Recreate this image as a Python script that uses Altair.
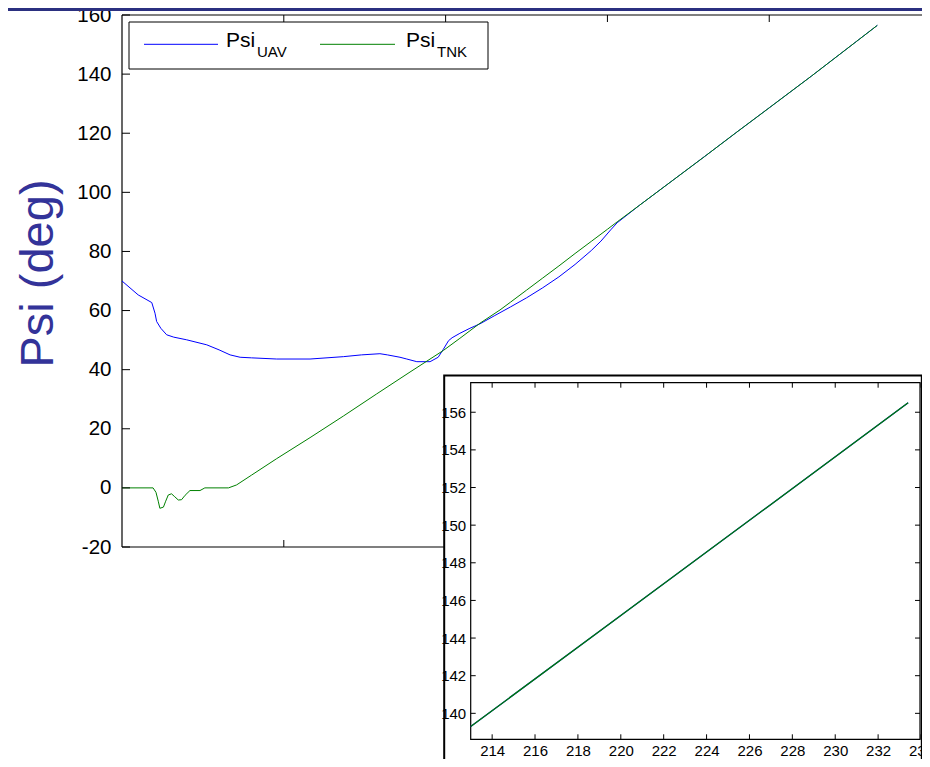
import altair as alt
import pandas as pd

# ---------------- data ----------------
uav_t = [0, 5, 9.2, 10.2, 10.7, 12, 13.8, 16, 20, 26.2, 30, 33.4, 36.5, 40, 47.8,
         58.1, 68.4, 74, 79.7, 82, 85.9, 88, 91.1, 95.2, 97.7, 99.3, 100.9, 102,
         104.4, 107.5, 110.6, 115, 120, 125, 130, 135, 140, 145, 148, 151, 153,
         160, 170, 180, 190, 200, 213, 220, 227, 233.4]
uav_psi = [70, 65.3, 62.7, 59.1, 56.3, 54, 51.8, 51, 50.1, 48.4, 46.7, 45, 44.2,
           44, 43.6, 43.6, 44.4, 45, 45.4, 45, 44.2, 43.6, 42.7, 42.7, 44.2, 46.9,
           49.8, 50.8, 52.3, 54, 55.5, 58.2, 61.2, 64.3, 67.7, 71.4, 75.6, 80.3,
           83.5, 87.3, 89.7, 95.7, 103.9, 112.1, 120.4, 128.6, 139.3, 145.2,
           151.1, 156.5]
tnk_t = [0, 9.6, 10.5, 11.2, 11.7, 12.8, 13.5, 14.3, 15.3, 16.3, 17.4, 18.4, 19.5,
         21, 24.1, 25.6, 32.9, 35.4, 40, 47.8, 58.1, 68.4, 78.7, 89, 99.3, 104.4,
         110.6, 116.8, 120, 125, 130, 135, 140, 145, 150, 153, 160, 170, 180, 190,
         200, 213, 220, 227, 233.4]
tnk_psi = [0, 0, -1.5, -4.5, -6.9, -6.5, -4.5, -2.4, -2, -3, -4.1, -4, -2.5, -0.9,
           -0.9, 0, 0, 1, 4.3, 9.9, 17.0, 24.3, 31.8, 39.2, 46.5, 50.6, 55.7, 60.2,
           62.8, 66.9, 71.0, 75.1, 79.3, 83.4, 87.5, 90.0, 95.7, 103.9, 112.1,
           120.4, 128.6, 139.3, 145.2, 151.1, 156.5]

main_y_ticks = [-20, 0, 20, 40, 60, 80, 100, 120, 140, 160]
main_x_ticks = [50, 100, 150, 200]
inset_x_ticks = [214, 216, 218, 220, 222, 224, 226, 228, 230, 232, 234]
inset_y_ticks = [140, 142, 144, 146, 148, 150, 152, 154, 156]
main_x_domain = [0, 247.2]          # the right part of the axes lies beyond the picture
main_y_domain = [-20, 160]
inset_x_domain = [213, 234]
inset_y_domain = [138.62, 157.57]
series_names = ["Psi", "Psi"]
series_subs = ["UAV", "TNK"]
series_colors = ["#0000ff", "#008000"]
y_title = "Psi (deg)"

# ---------------- layout / style ----------------
W, H = 800, 532
PAD = {"left": 114, "top": 7, "right": 0, "bottom": 212}
FONT = "Liberation Sans"
NARROW = "Liberation Sans Narrow, Arial Narrow, Liberation Sans"
IX0, IX1, IY0, IY1 = 348.7, 799, 367.7, 724.3   # inset axes box (plot coords)

uav = pd.DataFrame({"t": uav_t, "psi": uav_psi})
tnk = pd.DataFrame({"t": tnk_t, "psi": tnk_psi})
dummy = pd.DataFrame({"a": [0]})
myt = pd.DataFrame({"v": main_y_ticks})
mxt = pd.DataFrame({"v": main_x_ticks})
ixt = pd.DataFrame({"v": inset_x_ticks})
iyt = pd.DataFrame({"v": inset_y_ticks})


def mx():
    return alt.Scale(domain=main_x_domain, nice=False, zero=False)


def my():
    return alt.Scale(domain=main_y_domain, nice=False, zero=False)


def ix():
    return alt.Scale(domain=inset_x_domain, range=[IX0, IX1], nice=False, zero=False)


def iy():
    return alt.Scale(domain=inset_y_domain, range=[IY1, IY0], nice=False, zero=False)


layers = []

# slide banner strip (decoration)
layers.append(alt.Chart(dummy).mark_rect(color="#2b3080").encode(
    x=alt.value(-PAD["left"]), x2=alt.value(W),
    y=alt.value(-PAD["top"]), y2=alt.value(-PAD["top"] + 3)))

# main axes box: top, left, bottom edges (right edge lies outside the picture)
layers.append(alt.Chart(dummy).mark_rule(color="black", strokeWidth=1.2).encode(
    x=alt.value(0), x2=alt.value(W), y=alt.value(0)))
layers.append(alt.Chart(dummy).mark_rule(color="black", strokeWidth=1.2).encode(
    x=alt.value(0), x2=alt.value(W), y=alt.value(H)))
layers.append(alt.Chart(dummy).mark_rule(color="black", strokeWidth=1.2).encode(
    y=alt.value(0), y2=alt.value(H), x=alt.value(0)))

main_axis = alt.Axis(orient="left", values=main_y_ticks, ticks=False, tickSize=0,
                     domain=False, grid=False, labelPadding=11, labelFont=FONT,
                     labelFontSize=20.5, labelColor="black", labelFlush=False,
                     labelOverlap=False, labelExpr="'' + datum.value",
                     title=y_title, titleFont=FONT,
                     titleFontSize=47, titleFontWeight="normal", titleColor="#333399",
                     titleAngle=270, titleX=-84, titleY=258, titleBaseline="middle",
                     titleAlign="center")

layers.append(alt.Chart(uav).mark_line(color=series_colors[0], strokeWidth=1).encode(
    x=alt.X("t:Q", scale=mx(), axis=None),
    y=alt.Y("psi:Q", scale=my(), axis=main_axis)))
layers.append(alt.Chart(tnk).mark_line(color=series_colors[1], strokeWidth=1).encode(
    x=alt.X("t:Q", scale=mx(), axis=None),
    y=alt.Y("psi:Q", scale=my(), axis=None)))

# main inward ticks (left, top, bottom)
layers.append(alt.Chart(myt).mark_rule(color="black", strokeWidth=1).encode(
    y=alt.Y("v:Q", scale=my(), axis=None), x=alt.value(0), x2=alt.value(8)))
layers.append(alt.Chart(mxt).mark_rule(color="black", strokeWidth=1).encode(
    x=alt.X("v:Q", scale=mx(), axis=None), y=alt.value(0), y2=alt.value(7)))
layers.append(alt.Chart(mxt).mark_rule(color="black", strokeWidth=1).encode(
    x=alt.X("v:Q", scale=mx(), axis=None), y=alt.value(H - 7), y2=alt.value(H)))

# legend
layers.append(alt.Chart(dummy).mark_rect(fill="white", stroke="black", strokeWidth=1).encode(
    x=alt.value(7), x2=alt.value(366), y=alt.value(7), y2=alt.value(54)))
LX0, LX1, NX, SX = [22, 198], [96, 273], [104, 284], [135, 315]
for i in range(2):
    layers.append(alt.Chart(dummy).mark_rule(color=series_colors[i], strokeWidth=1).encode(
        x=alt.value(LX0[i]), x2=alt.value(LX1[i]), y=alt.value(29.3)))
    layers.append(alt.Chart(pd.DataFrame({"s": [series_names[i]]})).mark_text(
        align="left", baseline="alphabetic", font=FONT, fontSize=21, color="black").encode(
        x=alt.value(NX[i]), y=alt.value(31.7), text="s:N"))
    layers.append(alt.Chart(pd.DataFrame({"s": [series_subs[i]]})).mark_text(
        align="left", baseline="alphabetic", font=FONT, fontSize=15, color="black").encode(
        x=alt.value(SX[i]), y=alt.value(41.7), text="s:N"))

# inset frame and axes box
layers.append(alt.Chart(dummy).mark_rect(fill="white", stroke="black", strokeWidth=2).encode(
    x=alt.value(322.2), x2=alt.value(799.8), y=alt.value(360.6), y2=alt.value(750)))
layers.append(alt.Chart(dummy).mark_rect(fill="white", stroke="black", strokeWidth=1.2).encode(
    x=alt.value(IX0), x2=alt.value(IX1 - 1), y=alt.value(IY0), y2=alt.value(IY1)))

inset_xaxis = alt.Axis(orient="bottom", offset=IY1 - H, values=inset_x_ticks, ticks=False,
                       tickSize=0, domain=False, grid=False, labelPadding=4,
                       labelFont=NARROW, labelFontSize=15, labelColor="black",
                       labelFlush=False, labelOverlap=False, title=None, zindex=1)
inset_yaxis = alt.Axis(orient="left", offset=-IX0, values=inset_y_ticks, ticks=False,
                       tickSize=0, domain=False, grid=False, labelPadding=5,
                       labelFont=NARROW, labelFontSize=15, labelColor="black",
                       labelFlush=False, labelOverlap=False, title=None, zindex=1)

layers.append(alt.Chart(uav).transform_filter(alt.datum.t >= 213).mark_line(
    color=series_colors[0], strokeWidth=1.3).encode(
    x=alt.X("t:Q", scale=ix(), axis=None),
    y=alt.Y("psi:Q", scale=iy(), axis=None)))
layers.append(alt.Chart(tnk).transform_filter(alt.datum.t >= 213).mark_line(
    color=series_colors[1], strokeWidth=1.3).encode(
    x=alt.X("t:Q", scale=ix(), axis=inset_xaxis),
    y=alt.Y("psi:Q", scale=iy(), axis=inset_yaxis)))

# inset inward ticks
layers.append(alt.Chart(ixt).mark_rule(color="black", strokeWidth=1).encode(
    x=alt.X("v:Q", scale=ix(), axis=None), y=alt.value(IY1 - 5), y2=alt.value(IY1)))
layers.append(alt.Chart(ixt).mark_rule(color="black", strokeWidth=1).encode(
    x=alt.X("v:Q", scale=ix(), axis=None), y=alt.value(IY0), y2=alt.value(IY0 + 5)))
layers.append(alt.Chart(iyt).mark_rule(color="black", strokeWidth=1).encode(
    y=alt.Y("v:Q", scale=iy(), axis=None), x=alt.value(IX0), x2=alt.value(IX0 + 5)))
layers.append(alt.Chart(iyt).mark_rule(color="black", strokeWidth=1).encode(
    y=alt.Y("v:Q", scale=iy(), axis=None), x=alt.value(IX1 - 6), x2=alt.value(IX1 - 1)))

chart = alt.layer(*layers).resolve_scale(x="independent", y="independent").properties(
    width=W, height=H, padding=PAD, autosize=alt.AutoSizeParams(type="none"),
    background="white").configure_view(stroke=None)

chart.save("out.html", embed_options={"renderer": "svg", "actions": False})
